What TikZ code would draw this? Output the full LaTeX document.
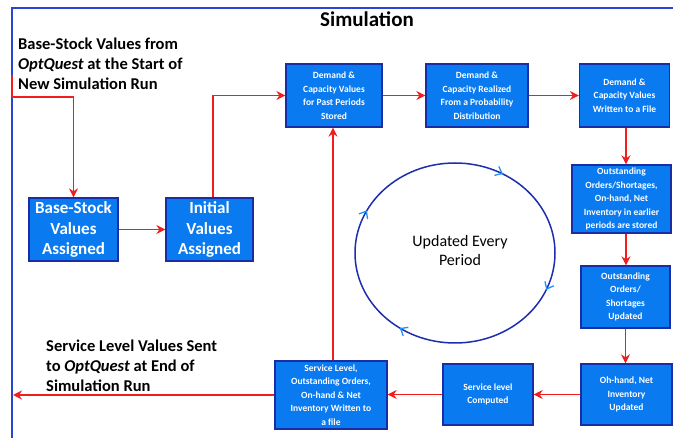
\documentclass[tikz,border=0pt]{standalone}
\usepackage{fontspec}
\setmainfont{Carlito}
\usetikzlibrary{arrows.meta,decorations.markings}
\definecolor{boxblue}{RGB}{10,122,240}
\definecolor{boxedge}{RGB}{25,45,165}
\definecolor{redl}{RGB}{240,30,30}
\definecolor{framec}{RGB}{40,70,210}
\definecolor{circc}{RGB}{30,45,175}
\definecolor{circa}{RGB}{30,144,255}
\tikzset{
  blk/.style={draw=boxedge, line width=1.3pt, fill=boxblue, text=white, align=center, inner sep=1pt, font=\bfseries\fontsize{9.5}{13.5}\selectfont},
  bigblk/.style={blk, font=\bfseries\fontsize{17}{20.5}\selectfont},
  flow/.style={draw=redl, line width=1.9pt, -{Stealth[length=9pt,width=9pt]}},
  frame/.style={draw=framec, line width=1.4pt},
  lbl/.style={align=left, anchor=north west, inner sep=0pt, font=\bfseries\fontsize{16.5}{20}\selectfont},
  cyclbl/.style={font=\fontsize{16}{19}\selectfont, align=center},
  cyctip/.style={circa, line width=1.3pt},
}
\begin{document}
\begin{tikzpicture}[x=1pt,y=-1pt]
\useasboundingbox (0,0) rectangle (673,438);
\draw[frame] (12,440) -- (12,8) -- (676,8);
\node[font=\bfseries\fontsize{21}{24}\selectfont] (title) at (367,19) {Simulation};
\node[lbl] (toptext) at (18,38) {Base-Stock Values from\\\textit{OptQuest} at the Start of\\New Simulation Run};
\node[lbl] (bottext) at (46,340) {Service Level Values Sent\\to \textit{OptQuest} at End of\\Simulation Run};

\node[bigblk, minimum width=89pt, minimum height=63pt] (bs) at (73.5,229.5) {Base-Stock\\Values\\Assigned};
\node[bigblk, minimum width=87pt, minimum height=63pt] (iv) at (209.5,229.5) {Initial\\Values\\Assigned};
\node[blk, minimum width=96pt, minimum height=63pt] (b1) at (334,95.5) {Demand \&\\Capacity Values\\for Past Periods\\Stored};
\node[blk, minimum width=102pt, minimum height=63pt] (b2) at (477,95.5) {Demand \&\\Capacity Realized\\From a Probability\\Distribution};
\node[blk, minimum width=90pt, minimum height=63pt] (b3) at (624.5,95.5) {Demand \&\\Capacity Values\\Written to a File};
\node[blk, minimum width=99pt, minimum height=68pt] (b4) at (621.5,199) {Outstanding\\Orders/Shortages,\\On-hand, Net\\Inventory in earlier\\periods are stored};
\node[blk, minimum width=89pt, minimum height=62pt] (b5) at (625.5,297) {Outstanding\\Orders/\\Shortages\\Updated};
\node[blk, minimum width=91pt, minimum height=61pt] (b6) at (626.5,394.5) {Oh-hand, Net\\Inventory\\Updated};
\node[blk, minimum width=90pt, minimum height=61pt] (b7) at (488,394.5) {Service level\\Computed};
\node[blk, minimum width=112pt, minimum height=68pt] (b8) at (331,395) {Service Level,\\Outstanding Orders,\\On-hand \& Net\\Inventory Written to\\a file};

\coordinate (s0) at (12,75);
\coordinate (s1) at (12,97);
\coordinate (e0) at (13,395);
\draw[flow] (s0) -- (s1) -| (bs.north);
\draw[flow] (bs.east) -- (iv.west);
\draw[flow] ([xshift=3.5pt]iv.north) |- (b1.west);
\draw[flow] (b1.east) -- (b2.west);
\draw[flow] (b2.east) -- (b3.west);
\draw[flow] ([xshift=1.5pt]b3.south) -- ([xshift=1.5pt]b3.south |- b4.north);
\draw[flow] ([xshift=0.5pt]b5.north |- b4.south) -- ([xshift=0.5pt]b5.north);
\draw[flow] (b5.south) -- (b5.south |- b6.north);
\draw[flow] (b6.west) -- (b7.east);
\draw[flow] (b7.west) -- (b8.east |- b7.west);
\draw[flow] ([xshift=2pt]b8.north) -- ([xshift=2pt]b8.north |- b1.south);
\draw[flow] (b8.west) -- (e0);

\node[cyclbl] (cyc) at (460,251) {Updated Every\\Period};
\draw[circc, line width=1.5pt,
  postaction={decorate, decoration={markings,
    mark=at position 0.064 with {\arrow[cyctip]{Straight Barb[length=6pt,width=10pt]}},
    mark=at position 0.347 with {\arrow[cyctip]{Straight Barb[length=6pt,width=10pt]}},
    mark=at position 0.575 with {\arrow[cyctip]{Straight Barb[length=6pt,width=10pt]}},
    mark=at position 0.833 with {\arrow[cyctip]{Straight Barb[length=6pt,width=10pt]}}}}]
  (455,253) ellipse [x radius=100, y radius=90];
\end{tikzpicture}
\end{document}
